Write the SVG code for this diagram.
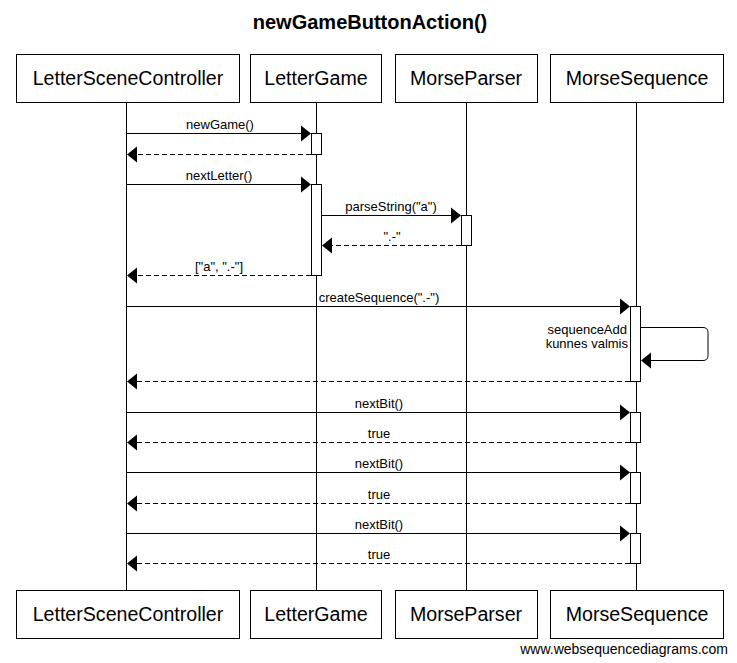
<svg xmlns="http://www.w3.org/2000/svg" width="737" height="663" viewBox="0 0 737 663">
<style>
.box{fill:#fff;stroke:#000;stroke-width:1}
.pt{font-family:"Liberation Sans",Arial,sans-serif;font-size:19.6px;text-anchor:middle;fill:#000}
.life{stroke:#000;stroke-width:1}
.act{fill:#fff;stroke:#000;stroke-width:1}
.msg{stroke:#000;stroke-width:1;fill:none}
.ret{stroke:#000;stroke-width:1;fill:none;stroke-dasharray:5,3}
.lbl{font-family:"Liberation Sans",Arial,sans-serif;font-size:13px;text-anchor:middle;fill:#000}
.end{text-anchor:end}
.head{fill:#000}
</style>
<rect width="737" height="663" fill="#fff"/>
<text x="370" y="29" font-family="Liberation Sans,Arial,sans-serif" font-size="20" font-weight="bold" text-anchor="middle">newGameButtonAction()</text>
<g id="lifelines">
<line class="life" x1="126.5" y1="102" x2="126.5" y2="590"/>
<line class="life" x1="316.5" y1="102" x2="316.5" y2="590"/>
<line class="life" x1="466.5" y1="102" x2="466.5" y2="590"/>
<line class="life" x1="636.5" y1="102" x2="636.5" y2="590"/>
</g>
<g id="LetterSceneController">
<rect class="box" x="16.5" y="54.5" width="223" height="48"/>
<text class="pt" x="128" y="85">LetterSceneController</text>
<rect class="box" x="16.5" y="590.5" width="223" height="48"/>
<text class="pt" x="128" y="621">LetterSceneController</text>
</g>
<g id="LetterGame">
<rect class="box" x="250.5" y="54.5" width="131" height="48"/>
<text class="pt" x="316" y="85">LetterGame</text>
<rect class="box" x="250.5" y="590.5" width="131" height="48"/>
<text class="pt" x="316" y="621">LetterGame</text>
</g>
<g id="MorseParser">
<rect class="box" x="395.5" y="54.5" width="142" height="48"/>
<text class="pt" x="466" y="85">MorseParser</text>
<rect class="box" x="395.5" y="590.5" width="142" height="48"/>
<text class="pt" x="466" y="621">MorseParser</text>
</g>
<g id="MorseSequence">
<rect class="box" x="550.5" y="54.5" width="173" height="48"/>
<text class="pt" x="637" y="85">MorseSequence</text>
<rect class="box" x="550.5" y="590.5" width="173" height="48"/>
<text class="pt" x="637" y="621">MorseSequence</text>
</g>
<g id="activations">
<rect class="act" x="311.5" y="133.5" width="10" height="21"/>
<rect class="act" x="311.5" y="184.5" width="10" height="91"/>
<rect class="act" x="461.5" y="215.5" width="10" height="30"/>
<rect class="act" x="630.5" y="306.5" width="10" height="75"/>
<rect class="act" x="630.5" y="412.5" width="10" height="30"/>
<rect class="act" x="630.5" y="472.5" width="10" height="31"/>
<rect class="act" x="630.5" y="533.5" width="10" height="30"/>
</g>
<g id="connectors">
<line class="msg" x1="126" y1="133.5" x2="302" y2="133.5"/>
<polygon class="head" points="311,133.5 301,125.5 301,141.5"/>
<text class="lbl" x="220" y="129">newGame()</text>
<line class="ret" x1="311" y1="154.5" x2="136" y2="154.5"/>
<polygon class="head" points="127,154.5 137,146.5 137,162.5"/>

<line class="msg" x1="126" y1="184.5" x2="302" y2="184.5"/>
<polygon class="head" points="311,184.5 301,176.5 301,192.5"/>
<text class="lbl" x="219" y="180">nextLetter()</text>

<line class="msg" x1="321" y1="215.5" x2="452" y2="215.5"/>
<polygon class="head" points="461,215.5 451,207.5 451,223.5"/>
<text class="lbl" x="391" y="211">parseString("a")</text>
<line class="ret" x1="461" y1="245.5" x2="331" y2="245.5"/>
<polygon class="head" points="322,245.5 332,237.5 332,253.5"/>
<text class="lbl" x="392" y="241">".-"</text>

<line class="ret" x1="311" y1="275.5" x2="136" y2="275.5"/>
<polygon class="head" points="127,275.5 137,267.5 137,283.5"/>
<text class="lbl" x="219" y="271">["a", ".-"]</text>

<line class="msg" x1="126" y1="306.5" x2="621" y2="306.5"/>
<polygon class="head" points="630,306.5 620,298.5 620,314.5"/>
<text class="lbl" x="379" y="302">createSequence(".-")</text>

<path class="msg" d="M641,327.5 H703 Q708,327.5 708,332.5 V355.5 Q708,360.5 703,360.5 H651"/>
<polygon class="head" points="641,360.5 651,352.5 651,368.5"/>
<text class="lbl end" x="627" y="334">sequenceAdd</text>
<text class="lbl end" x="628" y="348">kunnes valmis</text>

<line class="ret" x1="630" y1="381.5" x2="136" y2="381.5"/>
<polygon class="head" points="127,381.5 137,373.5 137,389.5"/>

<line class="msg" x1="126" y1="412.5" x2="621" y2="412.5"/>
<polygon class="head" points="630,412.5 620,404.5 620,420.5"/>
<text class="lbl" x="379" y="408">nextBit()</text>
<line class="ret" x1="630" y1="442.5" x2="136" y2="442.5"/>
<polygon class="head" points="127,442.5 137,434.5 137,450.5"/>
<text class="lbl" x="379" y="438">true</text>

<line class="msg" x1="126" y1="472.5" x2="621" y2="472.5"/>
<polygon class="head" points="630,472.5 620,464.5 620,480.5"/>
<text class="lbl" x="379" y="468">nextBit()</text>
<line class="ret" x1="630" y1="503.5" x2="136" y2="503.5"/>
<polygon class="head" points="127,503.5 137,495.5 137,511.5"/>
<text class="lbl" x="379" y="499">true</text>

<line class="msg" x1="126" y1="533.5" x2="621" y2="533.5"/>
<polygon class="head" points="630,533.5 620,525.5 620,541.5"/>
<text class="lbl" x="379" y="529">nextBit()</text>
<line class="ret" x1="630" y1="563.5" x2="136" y2="563.5"/>
<polygon class="head" points="127,563.5 137,555.5 137,571.5"/>
<text class="lbl" x="379" y="559">true</text>
</g>
<text x="728" y="654" font-family="Liberation Sans,Arial,sans-serif" font-size="14" text-anchor="end">www.websequencediagrams.com</text>
</svg>
